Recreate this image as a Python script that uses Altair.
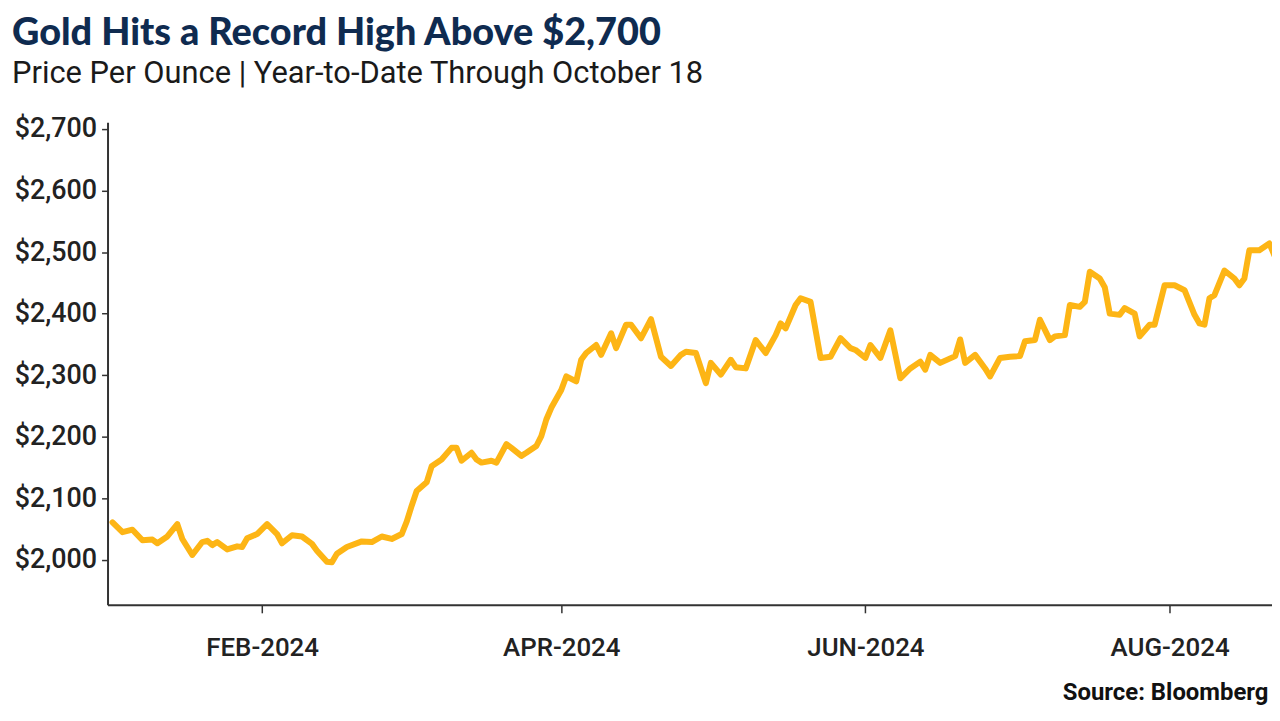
import altair as alt
import pandas as pd

dates = [
    "2024-01-02", "2024-01-04", "2024-01-06", "2024-01-08", "2024-01-10", "2024-01-11",
    "2024-01-13", "2024-01-15", "2024-01-16", "2024-01-18", "2024-01-20", "2024-01-21",
    "2024-01-22", "2024-01-23", "2024-01-25", "2024-01-27", "2024-01-28", "2024-01-29",
    "2024-01-31", "2024-02-02", "2024-02-04", "2024-02-05", "2024-02-07", "2024-02-09",
    "2024-02-11", "2024-02-12", "2024-02-14", "2024-02-15", "2024-02-16", "2024-02-18",
    "2024-02-21", "2024-02-23", "2024-02-25", "2024-02-27", "2024-02-29", "2024-03-01",
    "2024-03-02", "2024-03-03", "2024-03-05", "2024-03-06", "2024-03-08", "2024-03-10",
    "2024-03-11", "2024-03-12", "2024-03-14", "2024-03-15", "2024-03-16", "2024-03-18",
    "2024-03-19", "2024-03-21", "2024-03-22", "2024-03-24", "2024-03-25", "2024-03-27",
    "2024-03-28", "2024-03-29", "2024-03-30", "2024-04-01", "2024-04-02", "2024-04-04",
    "2024-04-05", "2024-04-06", "2024-04-08", "2024-04-09", "2024-04-11", "2024-04-12",
    "2024-04-14", "2024-04-15", "2024-04-17", "2024-04-19", "2024-04-21", "2024-04-23",
    "2024-04-25", "2024-04-26", "2024-04-28", "2024-04-30", "2024-05-01", "2024-05-03",
    "2024-05-05", "2024-05-06", "2024-05-08", "2024-05-10", "2024-05-12", "2024-05-14",
    "2024-05-15", "2024-05-16", "2024-05-18", "2024-05-19", "2024-05-21", "2024-05-23",
    "2024-05-25", "2024-05-27", "2024-05-29", "2024-05-30", "2024-06-01", "2024-06-02",
    "2024-06-04", "2024-06-06", "2024-06-08", "2024-06-10", "2024-06-12", "2024-06-13",
    "2024-06-14", "2024-06-16", "2024-06-19", "2024-06-20", "2024-06-21", "2024-06-23",
    "2024-06-25", "2024-06-26", "2024-06-28", "2024-06-30", "2024-07-02", "2024-07-03",
    "2024-07-05", "2024-07-06", "2024-07-08", "2024-07-09", "2024-07-11", "2024-07-12",
    "2024-07-14", "2024-07-15", "2024-07-16", "2024-07-18", "2024-07-19", "2024-07-20",
    "2024-07-22", "2024-07-23", "2024-07-25", "2024-07-26", "2024-07-28", "2024-07-29",
    "2024-07-31", "2024-08-02", "2024-08-04", "2024-08-06", "2024-08-07", "2024-08-08",
    "2024-08-09", "2024-08-10", "2024-08-12", "2024-08-14", "2024-08-15", "2024-08-16",
    "2024-08-17", "2024-08-19", "2024-08-21", "2024-08-22",
]

prices = [
    2061, 2045, 2049, 2032, 2033, 2027,
    2038, 2058, 2034, 2008, 2029, 2031,
    2024, 2029, 2017, 2022, 2021, 2035,
    2042, 2058, 2042, 2027, 2040, 2038,
    2026, 2015, 1997, 1996, 2010, 2021,
    2030, 2029, 2038, 2034, 2042, 2062,
    2088, 2112, 2126, 2152, 2163, 2182,
    2182, 2161, 2174, 2163, 2158, 2161,
    2158, 2188, 2182, 2169, 2174, 2185,
    2201, 2228, 2247, 2276, 2298, 2290,
    2325, 2336, 2349, 2333, 2368, 2344,
    2382, 2382, 2360, 2391, 2330, 2315,
    2333, 2338, 2336, 2287, 2320, 2301,
    2325, 2313, 2311, 2357, 2336, 2365,
    2384, 2376, 2414, 2425, 2419, 2328,
    2330, 2360, 2344, 2341, 2328, 2349,
    2328, 2373, 2295, 2311, 2322, 2309,
    2333, 2320, 2331, 2358, 2320, 2333,
    2311, 2298, 2328, 2330, 2331, 2355,
    2357, 2390, 2357, 2363, 2365, 2414,
    2411, 2419, 2468, 2457, 2443, 2400,
    2398, 2409, 2400, 2363, 2382, 2382,
    2446, 2446, 2438, 2398, 2384, 2382,
    2425, 2430, 2470, 2457, 2446, 2457,
    2503, 2503, 2514, 2495,
]

y_ticks = [2000, 2100, 2200, 2300, 2400, 2500, 2600, 2700]

title_text = "Gold Hits a Record High Above $2,700"
subtitle_text = "Price Per Ounce | Year-to-Date Through October 18"
source_text = "Source: Bloomberg"

df = pd.DataFrame({"date": dates, "price": prices})

x_ticks = [alt.DateTime(year=2024, month=m, date=1, utc=True) for m in (2, 4, 6, 8)]

chart = (
    alt.Chart(df)
    .mark_line(color="#FDB515", strokeWidth=6, clip=True, strokeJoin="round", strokeCap="round")
    .encode(
        x=alt.X(
            "date:T",
            scale=alt.Scale(
                type="utc",
                domain=[
                    alt.DateTime(year=2024, month=1, date=1, utc=True),
                    alt.DateTime(year=2024, month=8, date=21, hours=13, utc=True),
                ],
                nice=False,
            ),
            axis=alt.Axis(
                values=x_ticks,
                labelExpr="upper(utcFormat(datum.value, '%b-%Y'))",
                grid=False,
                tickSize=8,
                tickWidth=1.5,
                tickColor="#333333",
                domainColor="#333333",
                domainWidth=2,
                labelPadding=22,
                labelFont="Roboto",
                labelFontSize=26,
                labelFontWeight=500,
                labelColor="#222222",
                title=source_text,
                titleFont="Roboto",
                titleFontSize=24,
                titleFontWeight="bold",
                titleColor="#111111",
                titleAnchor="end",
                titleAlign="right",
                titleBaseline="middle",
                titleX=1166,
                titleY=88,
            ),
        ),
        y=alt.Y(
            "price:Q",
            scale=alt.Scale(domain=[1927, 2711], nice=False, zero=False),
            axis=alt.Axis(
                values=y_ticks,
                format="$,.0f",
                grid=False,
                tickSize=6,
                tickWidth=1.5,
                tickColor="#333333",
                domainColor="#333333",
                domainWidth=2,
                labelPadding=5,
                labelFont="Roboto",
                labelFontSize=27,
                labelFontWeight=500,
                labelColor="#222222",
                title=None,
            ),
        ),
    )
    .properties(
        width=1170,
        height=485,
        autosize="none",
        padding={"left": 100, "top": 113, "right": 0, "bottom": 106},
        background="white",
        title=alt.TitleParams(
            text=title_text,
            subtitle=subtitle_text,
            anchor="start",
            frame="group",
            dx=-96,
            offset=26,
            font="Lato",
            fontSize=38,
            fontWeight=900,
            color="#0F2B50",
            subtitleFont="Roboto",
            subtitleFontSize=31,
            subtitleColor="#1A1A1A",
            subtitlePadding=6,
        ),
    )
    .configure_view(stroke=None)
)

chart.save("out.html", embed_options={"renderer": "svg", "actions": False})
